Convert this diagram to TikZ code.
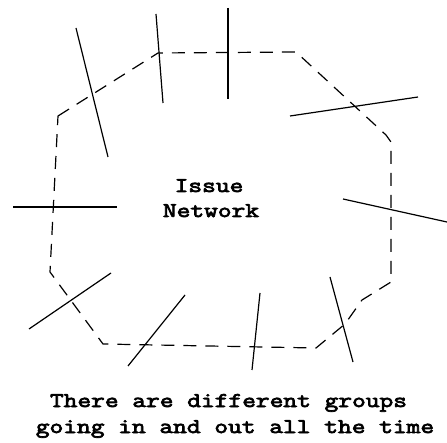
\documentclass[tikz,border=0pt]{standalone}
\usepackage{fontspec}
\newfontfamily\netfont[FakeStretch=1.27, FakeBold=3.5]{Latin Modern Mono}
\usetikzlibrary{calc}

\tikzset{
  group line/.style={line width=1.2pt},
  network loop/.style={line width=1.2pt, dash pattern=on 13pt off 9pt},
  net label/.style={font=\netfont\fontsize{21}{25}\selectfont, inner sep=0pt, anchor=base},
}

\begin{document}
\begin{tikzpicture}[x=1pt, y=-1pt]
  \useasboundingbox (0,0) rectangle (447,443);

  % Eckpunkte des Netzwerks
  \coordinate (n1) at (58,116);
  \coordinate (n2) at (158,53);
  \coordinate (n3) at (296,52);
  \coordinate (n4) at (386,135);
  \coordinate (n5) at (391,142);
  \coordinate (n6) at (391,282);
  \coordinate (n7) at (362,300);
  \coordinate (n8) at (345,324);
  \coordinate (n9) at (316,348);
  \coordinate (n10) at (103,344);
  \coordinate (n11) at (50,272);

  % Netzwerk (gestrichelt)
  \draw[network loop] (n1) -- (n2) -- (n3) -- (n4) -- (n5) -- (n6) -- (n7)
    -- (n8) -- (n9) -- (n10) -- (n11) -- cycle;

  % Gruppen, die hinein- und hinausgehen
  \foreach \xa/\ya/\xb/\yb in {76/28/108/157, 156/14/163/103, 228/8/228/99,
      290/116/418/97, 343/199/447/222, 13/207/117/207, 29/329/111/273,
      128/366/185/295, 260/293/252/370, 330/277/353/362}
    \draw[group line] (\xa,\ya) -- (\xb,\yb);

  % Beschriftung
  \node[net label] (issue) at (209,192) {Issue};
  \node[net label] (network) at (211,217) {Network};
  \node[net label] (caption1) at (228.5,407) {There are different groups};
  \node[net label] (caption2) at (235,433) {going in and out all the time};
\end{tikzpicture}
\end{document}
